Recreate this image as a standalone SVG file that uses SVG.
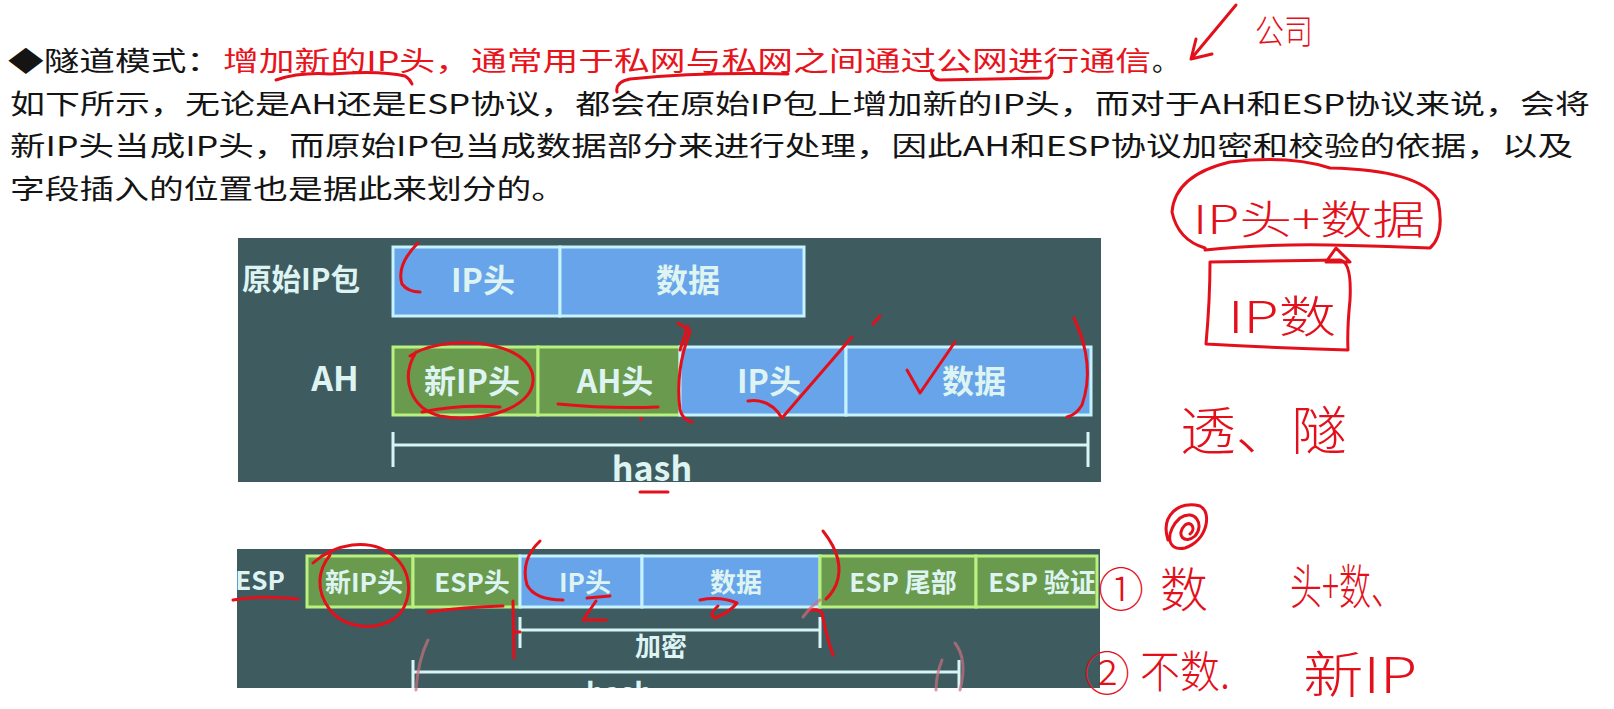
<svg xmlns="http://www.w3.org/2000/svg" width="1614" height="709" viewBox="0 0 1614 709">
<style>
.body{font-family:"Noto Sans CJK SC","Noto Sans CJK JP",sans-serif;font-size:27px;fill:#141414}
.red{fill:#e8141c}
.panel{fill:#3e5b60}
.blue{fill:#67a4e9;stroke:#c6f3ff;stroke-width:3}
.green{fill:#6a9a4e;stroke:#b9f07e;stroke-width:3}
.lbl{font-family:"Noto Sans CJK SC","Noto Sans CJK JP",sans-serif;font-weight:bold;fill:#def4f2;text-anchor:middle}
.bar{stroke:#d8f5f6;stroke-width:3;fill:none}
.ink{stroke:#e3101c;stroke-width:3;fill:none;stroke-linecap:round;stroke-linejoin:round}
.faint{stroke:#c9707c;stroke-width:3;fill:none;opacity:0.7;stroke-linecap:round}
.hw{font-family:"Noto Sans CJK SC","Noto Sans CJK JP",sans-serif;fill:#e3101c;font-weight:300}
</style>
<defs>
<clipPath id="espclip"><rect x="237" y="549" width="863" height="139"/></clipPath>
</defs>
<rect width="1614" height="709" fill="#ffffff"/>

<g id="text-block">
<text class="body" x="8" y="71" textLength="214" lengthAdjust="spacingAndGlyphs">◆隧道模式：</text>
<text class="body red" x="223" y="71" textLength="928" lengthAdjust="spacingAndGlyphs">增加新的IP头，通常用于私网与私网之间通过公网进行通信</text>
<text class="body" x="1152" y="71">。</text>
<text class="body" x="10" y="114" textLength="1580" lengthAdjust="spacingAndGlyphs">如下所示，无论是AH还是ESP协议，都会在原始IP包上增加新的IP头，而对于AH和ESP协议来说，会将</text>
<text class="body" x="10" y="156" textLength="1563" lengthAdjust="spacingAndGlyphs">新IP头当成IP头，而原始IP包当成数据部分来进行处理，因此AH和ESP协议加密和校验的依据，以及</text>
<text class="body" x="10" y="199" textLength="556" lengthAdjust="spacingAndGlyphs">字段插入的位置也是据此来划分的。</text>
</g>

<g id="ah-panel">
<rect class="panel" x="238" y="238" width="863" height="244"/>
<g id="orig-label"><text class="lbl" x="301" y="290" font-size="30" textLength="118" lengthAdjust="spacingAndGlyphs">原始IP包</text></g>
<g id="orig-iphead"><rect class="blue" x="393" y="247" width="167" height="69"/><text class="lbl" x="483" y="292" font-size="32">IP头</text></g>
<g id="orig-data"><rect class="blue" x="560" y="247" width="244" height="69"/><text class="lbl" x="688" y="292" font-size="32">数据</text></g>
<g id="ah-label"><text class="lbl" x="335" y="391" font-size="34">AH</text></g>
<g id="ah-newip"><rect class="green" x="393" y="347" width="145" height="68"/><text class="lbl" x="472" y="393" font-size="32">新IP头</text></g>
<g id="ah-head"><rect class="green" x="538" y="347" width="142" height="68"/><text class="lbl" x="615" y="393" font-size="32">AH头</text></g>
<g id="ah-iphead"><rect class="blue" x="680" y="347" width="166" height="68"/><text class="lbl" x="769" y="393" font-size="32">IP头</text></g>
<g id="ah-data"><rect class="blue" x="846" y="347" width="245" height="68"/><text class="lbl" x="974" y="393" font-size="32">数据</text></g>
<g id="ah-hash"><text class="lbl" x="652" y="481" font-size="34">hash</text></g>
</g>

<g id="esp-panel">
<rect class="panel" x="237" y="549" width="863" height="139"/>
<g id="esp-label"><text class="lbl" x="260" y="590" font-size="26">ESP</text></g>
<g id="esp-newip"><rect class="green" x="307" y="556" width="106" height="51"/><text class="lbl" x="364" y="592" font-size="26">新IP头</text></g>
<g id="esp-head"><rect class="green" x="413" y="556" width="107" height="51"/><text class="lbl" x="472" y="592" font-size="26">ESP头</text></g>
<g id="esp-iphead"><rect class="blue" x="520" y="556" width="122" height="51"/><text class="lbl" x="585" y="592" font-size="26">IP头</text></g>
<g id="esp-data"><rect class="blue" x="642" y="556" width="178" height="51"/><text class="lbl" x="736" y="592" font-size="26">数据</text></g>
<g id="esp-tail"><rect class="green" x="820" y="556" width="156" height="51"/><text class="lbl" x="903" y="592" font-size="26">ESP 尾部</text></g>
<g id="esp-auth"><rect class="green" x="976" y="556" width="121" height="51"/><text class="lbl" x="1042" y="592" font-size="26">ESP 验证</text></g>
<g id="esp-encrypt"><text class="lbl" x="661" y="656" font-size="26">加密</text></g>
<g id="esp-hash" clip-path="url(#espclip)"><text class="lbl" x="619" y="703" font-size="28">hash</text></g>
</g>

<g id="connectors">
<path class="bar" d="M393 445 H1088 M393 432 V467 M1088 432 V467"/>
<path class="bar" d="M520 630 H820 M520 617 V648 M820 617 V648"/>
<path class="bar" clip-path="url(#espclip)" d="M413 672 H959 M413 660 V692 M959 660 V692"/>
</g>

<g id="annotations">
<path class="ink" d="M276 80 Q300 72 330 74 Q380 70 405 76 Q410 79 412 84"/>
<path class="ink" d="M617 92 Q615 82 630 79 Q700 72 788 74"/>
<path class="ink" d="M931 70 Q932 80 940 80 L1048 78 Q1052 76 1052 70"/>
<path class="ink" d="M1236 5 L1191 59 M1191 59 L1196 39 M1191 59 L1212 54"/>
<path class="ink" d="M1205 248 Q1178 240 1172 212 Q1175 175 1230 162 Q1290 155 1330 168 Q1420 170 1438 200 Q1445 235 1430 248 Q1380 246 1330 245 Q1260 244 1205 250"/>
<path class="ink" d="M1326 262 L1336 248 L1350 262 Z"/>
<path class="ink" d="M1210 262 L1340 260 Q1352 262 1350 300 Q1347 330 1348 350 Q1280 348 1206 344 Q1210 300 1210 262"/>
<path class="ink" d="M1168 540 C1160 515 1180 500 1200 506 C1212 512 1208 540 1185 548 C1165 552 1166 530 1180 518 C1195 508 1205 525 1195 536 C1185 545 1175 535 1185 525 C1192 520 1196 530 1190 534"/>
<path class="ink" d="M418 243 Q396 265 402 284 Q408 292 420 292"/>
<path class="ink" d="M410 356 C440 335 520 338 532 372 C542 408 480 424 440 416 C410 408 400 378 416 352"/>
<path class="ink" d="M422 412 Q460 404 500 407"/>
<path class="ink" d="M558 404 Q610 409 658 407"/>
<circle cx="641" cy="419" r="2" fill="#e3101c"/>
<path class="ink" d="M678 323 L690 331 M688 326 L680 350 M690 332 Q675 370 680 410 Q683 420 692 422"/>
<path class="ink" d="M748 401 Q770 398 782 418 L852 337"/>
<path class="ink" d="M873 324 L880 316"/>
<path class="ink" d="M907 370 L920 393 L955 342"/>
<path class="ink" d="M1074 318 Q1096 365 1082 405 Q1076 415 1067 417"/>
<path class="ink" d="M640 492 L668 492"/>
<path class="ink" d="M233 600 Q262 595 298 599"/>
<path class="ink" d="M313 563 Q330 548 352 545 C395 540 418 575 405 605 C395 630 350 635 330 610 C315 590 318 570 330 555"/>
<path class="ink" d="M428 612 Q465 607 503 606"/>
<path class="ink" d="M513 601 L514 658 M514 632 L520 632"/>
<path class="ink" d="M540 541 Q520 560 527 585 Q535 600 563 600"/>
<path class="ink" d="M587 598 L610 596 M596 601 L583 620 L606 620"/>
<path class="ink" d="M700 600 Q720 596 737 603 Q730 612 715 618 Q708 615 718 606"/>
<path class="ink" d="M823 531 Q846 560 836 585 Q831 595 826 599"/>
<path class="ink" d="M808 611 Q818 608 822 613 Q826 635 833 655"/>
<path class="faint" d="M428 640 Q418 660 416 690"/>
<path class="faint" d="M955 643 Q968 660 960 690 M942 660 Q936 675 936 690 M803 617 Q812 605 820 600"/>
<text class="hw" x="1255" y="44" font-size="34" textLength="58" lengthAdjust="spacingAndGlyphs">公司</text>
<text class="hw" x="1193" y="234" font-size="40" textLength="232" lengthAdjust="spacingAndGlyphs">IP头+数据</text>
<text class="hw" x="1228" y="333" font-size="44" textLength="108" lengthAdjust="spacingAndGlyphs">IP数</text>
<text class="hw" x="1180" y="450" font-size="52" textLength="167" lengthAdjust="spacingAndGlyphs">透、隧</text>
<text class="hw" x="1098" y="606" font-size="46">①</text>
<text class="hw" x="1160" y="607" font-size="48">数</text>
<text class="hw" x="1290" y="604" font-size="48" textLength="113" lengthAdjust="spacingAndGlyphs">头+数、</text>
<text class="hw" x="1084" y="690" font-size="46">②</text>
<text class="hw" x="1140" y="688" font-size="44" textLength="90" lengthAdjust="spacingAndGlyphs">不数.</text>
<text class="hw" x="1303" y="693" font-size="50" textLength="114" lengthAdjust="spacingAndGlyphs">新IP</text>
</g>
</svg>
